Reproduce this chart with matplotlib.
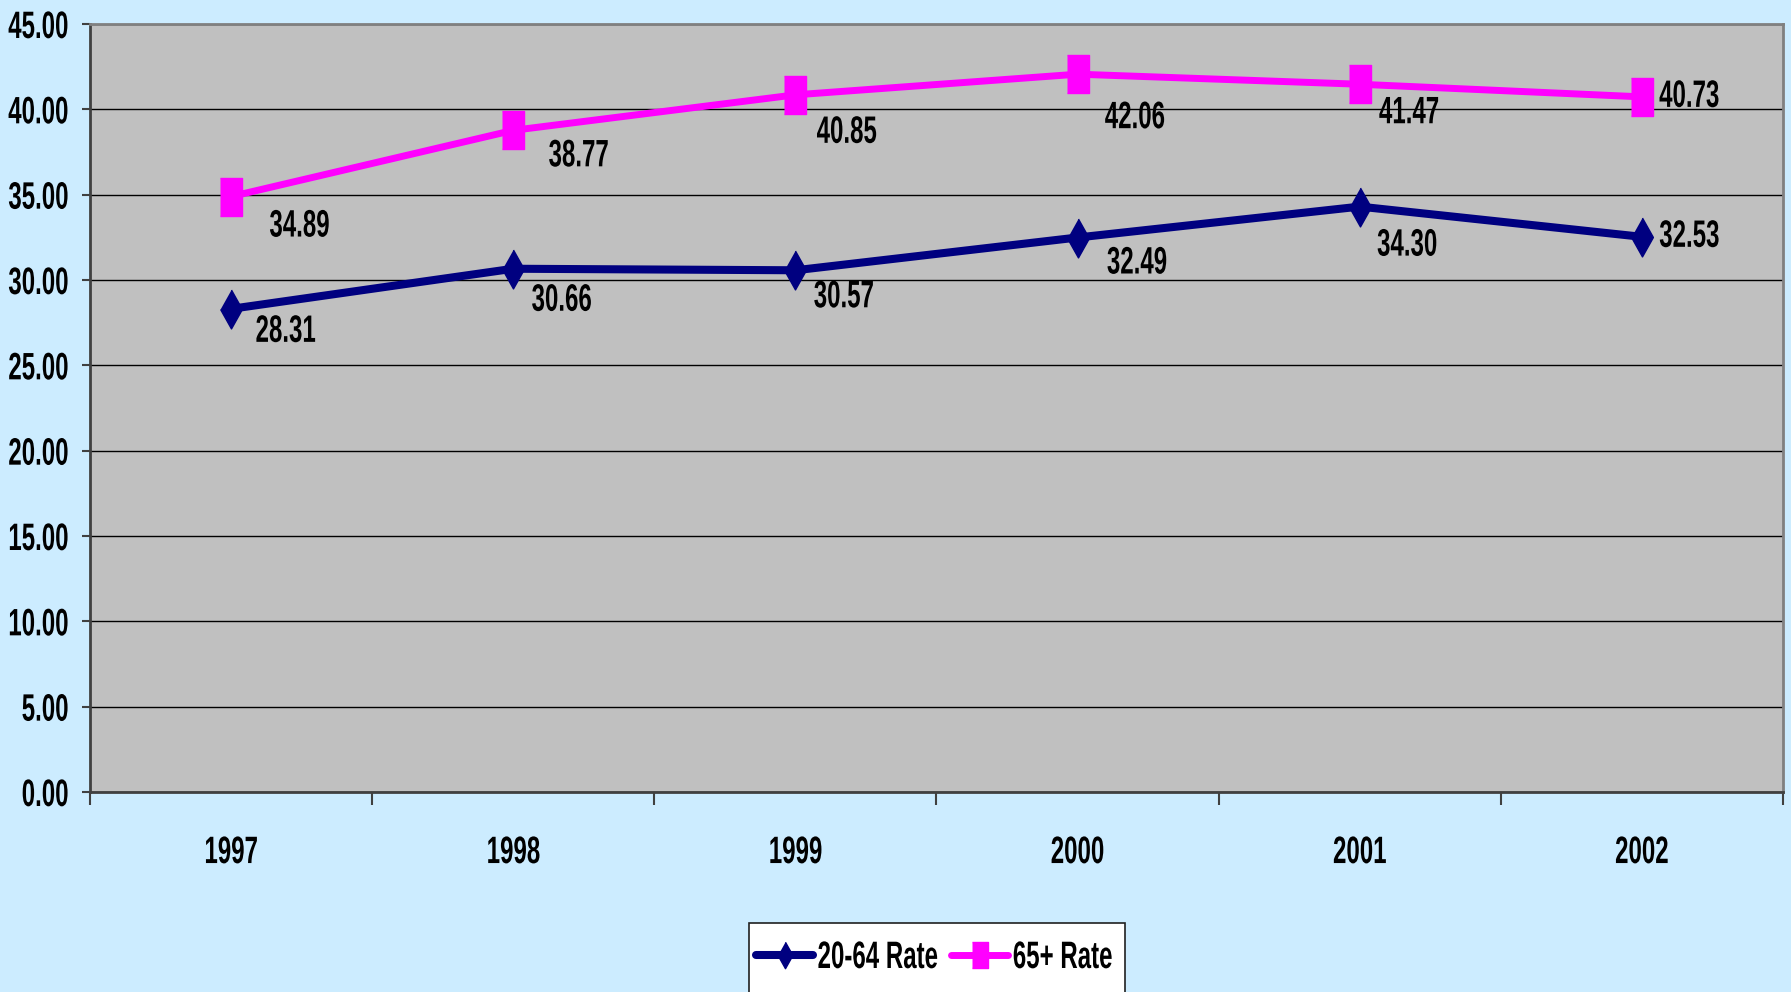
import numpy as np
import matplotlib
matplotlib.use('Agg')
import matplotlib.pyplot as plt
from matplotlib.patheffects import AbstractPathEffect
from matplotlib.transforms import Affine2D, Bbox
from matplotlib.patches import Rectangle

years = ['1997', '1998', '1999', '2000', '2001', '2002']
rate_20_64 = [28.31, 30.66, 30.57, 32.49, 34.30, 32.53]
rate_65 = [34.89, 38.77, 40.85, 42.06, 41.47, 40.73]

# label offsets in pixels (dx, dy)
off_20_64 = [(24, -23), (18, -32), (18, -27), (29, -26), (17, -39), (17, 0)]
off_65 = [(38, -30), (35, -26), (21, -38), (27, -44), (19, -29), (17, 0)]

SX = 0.63  # the original uses a very condensed bold face


class Squeeze(AbstractPathEffect):
    def __init__(self, sx=SX, anchor='left'):
        super().__init__()
        self.sx = sx
        self.anchor = anchor

    def draw_path(self, renderer, gc, tpath, affine, rgbFace=None):
        ext = tpath.get_extents(affine)
        a = {'left': ext.x0, 'right': ext.x1}.get(self.anchor, (ext.x0 + ext.x1) / 2)
        t = affine + Affine2D().translate(-a, 0).scale(self.sx, 1).translate(a, 0)
        renderer.draw_path(gc, tpath, t, rgbFace)


def squeeze(text, anchor):
    text.set_path_effects([Squeeze(anchor=anchor)])
    orig = text.get_window_extent

    def extent(renderer=None, dpi=None):
        bb = orig(renderer, dpi)
        a = {'left': bb.x0, 'right': bb.x1}.get(anchor, (bb.x0 + bb.x1) / 2)
        return Bbox([[a + (bb.x0 - a) * SX, bb.y0], [a + (bb.x1 - a) * SX, bb.y1]])
    text.get_window_extent = extent


plt.rcParams['font.family'] = ['Liberation Sans', 'DejaVu Sans']
plt.rcParams['font.weight'] = 'bold'

bg = '#CCECFF'
W, H = 1791, 992
fig = plt.figure(figsize=(W/100, H/100), dpi=100, facecolor=bg)
ax = fig.add_axes([90/W, 1-792/H, (1783-90)/W, (792-24)/H])
ax.set_facecolor('#C0C0C0')

x = np.arange(len(years))
diamond = [(0, 0.5), (0.28, 0), (0, -0.5), (-0.28, 0)]
square = [(-0.3, -0.5), (0.3, -0.5), (0.3, 0.5), (-0.3, 0.5)]

ax.plot(x, rate_20_64, color='#000080', lw=5.8, marker=diamond, ms=28,
        label='20-64 Rate', zorder=3, solid_capstyle='round')
ax.plot(x, rate_65, color='#FF00FF', lw=5, marker=square, ms=27,
        label='65+ Rate', zorder=3, solid_capstyle='round')

fs = 27.5
for vals, offs in ((rate_20_64, off_20_64), (rate_65, off_65)):
    for xi, v, (dx, dy) in zip(x, vals, offs):
        t = ax.annotate(f'{v:.2f}', (xi, v), xytext=(dx*0.72, dy*0.72),
                        textcoords='offset points', ha='left', va='center',
                        fontsize=fs, fontweight='bold', zorder=5)
        squeeze(t, 'left')

ax.set_xlim(-0.5, len(years) - 0.5)
ax.set_ylim(0, 45)
yt = np.arange(0, 46, 5)
ax.set_yticks(yt)
ax.set_yticklabels([f'{v:.2f}' for v in yt])
ax.yaxis.grid(True, color='black', lw=1)
ax.set_axisbelow(True)

ax.set_xticks(x)
ax.set_xticklabels(years)
ax.set_xticks(np.arange(-0.5, len(years)), minor=True)
ax.tick_params(axis='x', which='major', length=0, pad=31, labelsize=fs)
ax.tick_params(axis='x', which='minor', length=9, width=1.5, color='#404040', direction='out')
ax.tick_params(axis='y', which='major', length=6, width=1.5, color='#404040', pad=9, labelsize=fs)

for lbl in ax.get_yticklabels():
    squeeze(lbl, 'right')
for lbl in ax.get_xticklabels():
    squeeze(lbl, 'center')

for s in ('top', 'right'):
    ax.spines[s].set_color('#808080')
    ax.spines[s].set_linewidth(2)
for s in ('left', 'bottom'):
    ax.spines[s].set_color('#404040')
    ax.spines[s].set_linewidth(2)

# legend box drawn by hand so that it fits the squeezed text
fig.patches.append(Rectangle((749/W, 1-1000/H), (1125-749)/W, (1000-923)/H,
                             transform=fig.transFigure, facecolor='white',
                             edgecolor='#202020', lw=1.2, zorder=1))
leg = fig.legend(loc='center left', bbox_to_anchor=(756/W, 1-958/H),
                 ncol=2, fontsize=fs, frameon=False, borderpad=0, borderaxespad=0,
                 handlelength=1.5, handletextpad=0.1, columnspacing=-1.5,
                 markerscale=0.68)
leg.set_zorder(2)
for t in leg.get_texts():
    squeeze(t, 'left')

fig.savefig('out.png', dpi=100, facecolor=bg)
